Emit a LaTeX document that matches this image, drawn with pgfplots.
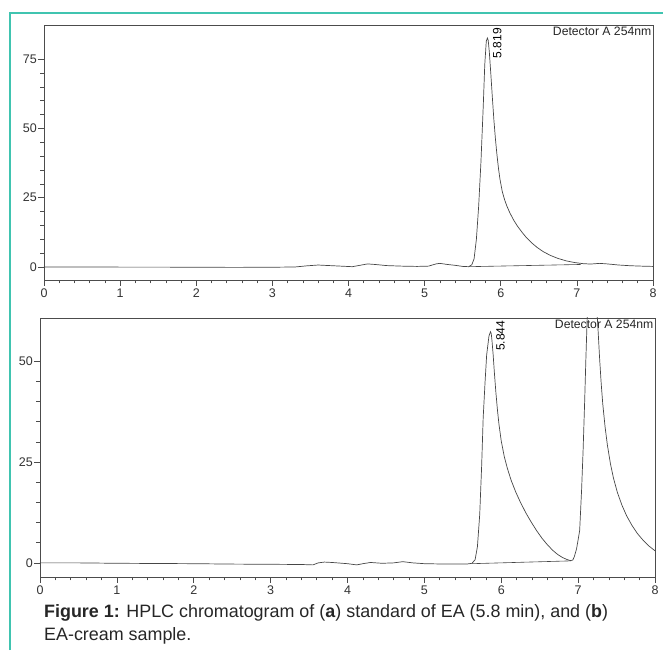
\documentclass[border=0pt]{standalone}
\usepackage{fontspec}
\setmainfont{Liberation Sans}
\usepackage{pgfplots}
\pgfplotsset{compat=1.18}
\definecolor{frameteal}{RGB}{64,196,176}
\definecolor{trace}{RGB}{70,70,70}

% chromatogram traces (time in min, signal in mAU)
\pgfplotstableread{
t v
0 0
0.5 0.0
1.0 -0.05
1.5 -0.05
2.0 -0.1
2.5 -0.15
3.0 -0.1
3.3 0.0
3.45 0.4
3.6 0.7
3.75 0.5
3.9 0.3
4.05 0.1
4.15 0.6
4.25 1.1
4.35 0.9
4.5 0.5
4.7 0.3
4.9 0.2
5.05 0.3
5.15 1.1
5.2 1.3
5.3 0.9
5.4 0.6
5.5 0.2
5.58 0.1
5.62 0.8
5.65 3
5.68 10
5.71 22
5.74 38
5.77 58
5.79 73
5.81 81.5
5.825 82.6
5.835 81.8
5.85 77.5
5.87 69.5
5.89 61
5.91 53
5.93 46.2
5.95 40.5
5.97 35.6
5.99 31.6
6.02 27.2
6.05 24.3
6.08 22.0
6.12 19.5
6.17 16.9
6.22 14.7
6.28 12.5
6.34 10.5
6.41 8.6
6.48 7.0
6.56 5.5
6.65 4.2
6.75 3.1
6.86 2.2
6.97 1.6
7.08 1.2
7.18 1.05
7.3 1.3
7.4 1.1
7.55 0.7
7.7 0.45
7.85 0.3
8.0 0.2
}\tracea

\pgfplotstableread{
t v
0 0
0.5 0.0
1.0 -0.1
1.5 -0.15
2.0 -0.2
2.5 -0.3
3.0 -0.35
3.4 -0.4
3.55 -0.5
3.62 0.0
3.7 0.2
3.8 0.1
4.0 -0.2
4.12 -0.5
4.2 -0.2
4.3 0.1
4.45 -0.1
4.6 0.0
4.72 0.3
4.85 0.0
5.0 -0.2
5.3 -0.3
5.55 -0.3
5.62 -0.1
5.66 0.8
5.69 4
5.72 12
5.745 24
5.765 36
5.79 45
5.81 51.5
5.84 56.2
5.86 57.3
5.87 56.8
5.88 55
5.895 51.5
5.91 47.3
5.93 42.3
5.95 38.0
5.97 34.4
6.00 30.2
6.04 26.3
6.08 23.4
6.13 20.4
6.19 17.5
6.25 15.0
6.32 12.4
6.39 10.1
6.46 8.0
6.53 6.1
6.60 4.5
6.67 3.1
6.74 2.0
6.80 1.3
6.86 0.8
6.90 0.55
6.93 0.7
6.95 1.5
6.98 3.5
7.02 8
7.045 18
7.065 28
7.085 40
7.10 50
7.12 62
7.15 70
7.18 73
7.21 70.5
7.24 64
7.26 57.5
7.28 50.5
7.30 44.5
7.32 39.5
7.35 33.8
7.38 29.3
7.42 24.6
7.46 21.0
7.51 17.5
7.57 14.3
7.63 11.7
7.70 9.3
7.77 7.3
7.85 5.5
7.92 4.2
8.00 3.0
}\traceb

\pgfplotsset{
  chrom/.style={
    scale only axis,
    xmin=0, xmax=8,
    xtick={0,1,...,8},
    minor x tick num=4, minor y tick num=4,
    tick align=outside,
    xtick pos=bottom, ytick pos=left,
    major tick length=6pt, minor tick length=3.5pt,
    axis line style={black!70, line width=0.7pt},
    tick style={black!70, line width=0.6pt},
    ticklabel style={font=\fontsize{12.5}{14}\selectfont, text=black!80},
    xticklabel style={inner sep=2.5pt},
    yticklabel style={inner sep=1pt},
    /pgf/number format/assume math mode=true,
  },
  trc/.style={trace, line width=0.7pt},
  bsl/.style={trace, line width=0.6pt},
}

\begin{document}
\begin{tikzpicture}[x=1pt,y=1pt]
\path[use as bounding box] (0,0) rectangle (663,650);
\draw[frameteal, line width=2pt] (10,0) -- (10,637) -- (663,637);

% (a) standard
\begin{axis}[chrom, at={(44pt,370pt)}, anchor=south west,
  width=609pt, height=255pt,
  ymin=-4.7, ymax=87.3, ytick={0,25,50,75}]
  \addplot[trc] table[x=t, y=v] {\tracea};
  \addplot[bsl] coordinates {(5.58,0.1) (7.05,0.9)};
  \node[rotate=90, font=\fontsize{12}{13}\selectfont, inner sep=0pt]
    at (axis cs:5.953,80.8) {5.819};
  \node[anchor=north east, font=\fontsize{12.2}{13}\selectfont, inner sep=1.5pt, text=black!85]
    at (rel axis cs:1,1) {Detector A 254nm};
\end{axis}

% (b) EA-cream sample
\begin{axis}[chrom, at={(40pt,73pt)}, anchor=south west,
  width=615pt, height=259pt,
  ymin=-3.5, ymax=60.7, ytick={0,25,50}]
  \addplot[trc] table[x=t, y=v] {\traceb};
  \addplot[bsl] coordinates {(5.62,-0.2) (6.91,0.5)};
  \node[rotate=90, font=\fontsize{12}{13}\selectfont, inner sep=0pt]
    at (axis cs:5.99,56.3) {5.844};
  \node[anchor=north east, font=\fontsize{12.2}{13}\selectfont, inner sep=1.5pt, text=black!85]
    at (rel axis cs:1,1) {Detector A 254nm};
\end{axis}

\node[anchor=base west, font=\fontsize{17.9}{20}\selectfont, text=black!85, inner sep=0pt]
  at (44,33) {\textbf{Figure 1:} HPLC chromatogram of (\textbf{a}) standard of EA (5.8 min), and (\textbf{b})};
\node[anchor=base west, font=\fontsize{17.9}{20}\selectfont, text=black!85, inner sep=0pt]
  at (44,10) {EA-cream sample.};
\end{tikzpicture}
\end{document}
